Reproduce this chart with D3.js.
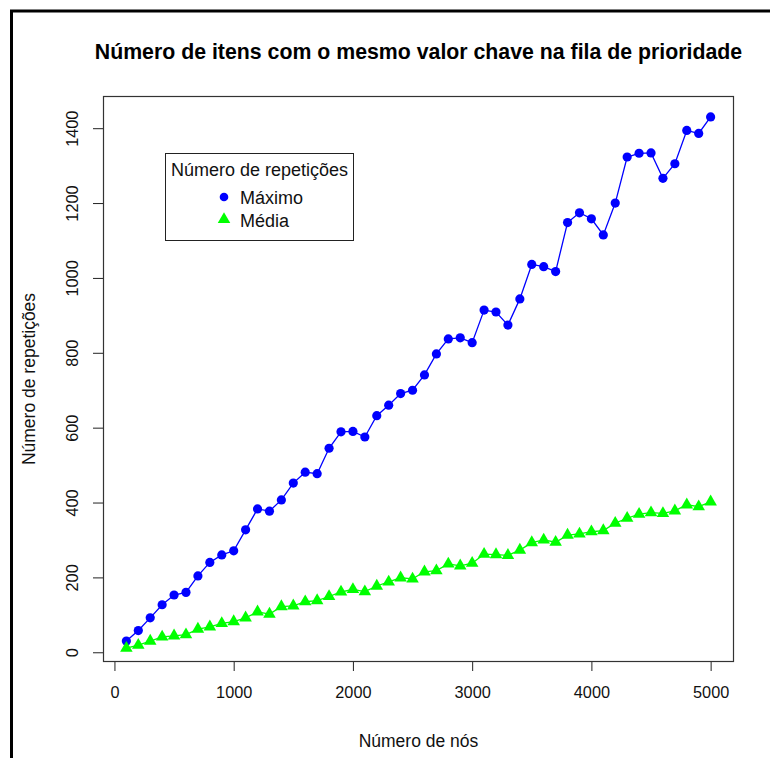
<!DOCTYPE html>
<html>
<head>
<meta charset="utf-8">
<script src="https://cdn.jsdelivr.net/npm/d3@7"></script>
<style>
  html, body { margin: 0; padding: 0; background: #fff; }
  svg { display: block; font-family: "Liberation Sans", Arial, Helvetica, sans-serif; }
</style>
</head>
<body>
<svg id="chart" width="770" height="758"></svg>
<script>
// Number of nodes in the priority queue
const nodes = [100, 200, 300, 400, 500, 600, 700, 800, 900, 1000,
  1100, 1200, 1300, 1400, 1500, 1600, 1700, 1800, 1900, 2000,
  2100, 2200, 2300, 2400, 2500, 2600, 2700, 2800, 2900, 3000,
  3100, 3200, 3300, 3400, 3500, 3600, 3700, 3800, 3900, 4000,
  4100, 4200, 4300, 4400, 4500, 4600, 4700, 4800, 4900, 5000];

// Maximum repetitions of a key value
const maximo = [30, 58, 92, 127, 153, 160, 204, 240, 260, 271,
  327, 383, 377, 407, 452, 481, 477, 545, 589, 590,
  575, 632, 660, 691, 700, 741, 797, 837, 840, 827,
  914, 909, 874, 944, 1036, 1030, 1017, 1148, 1174, 1158,
  1115, 1200, 1323, 1333, 1334, 1266, 1305, 1394, 1386, 1430];

// Mean repetitions of a key value
const media = [11, 19, 30, 41, 44, 47, 62, 68, 77, 82,
  92, 108, 102, 122, 124, 135, 138, 149, 161, 168,
  162, 177, 188, 199, 196, 215, 218, 236, 231, 238,
  262, 261, 259, 273, 293, 300, 294, 313, 316, 322,
  325, 345, 358, 369, 373, 371, 378, 394, 389, 402];

const xTicks = [0, 1000, 2000, 3000, 4000, 5000];
const yTicks = [0, 200, 400, 600, 800, 1000, 1200, 1400];

const titleText = "Número de itens com o mesmo valor chave na fila de prioridade";
const xLabel = "Número de nós";
const yLabel = "Número de repetições";
const legendTitle = "Número de repetições";
const seriesNames = ["Máximo", "Média"];
const seriesColors = ["#0000ff", "#00ff00"];

const svg = d3.select("#chart");
const W = 770, H = 758;
const plot = { left: 103, right: 734, top: 96, bottom: 662 };

svg.append("rect").attr("width", W).attr("height", H).attr("fill", "#fff");

// frame around the figure
svg.append("path")
  .attr("d", `M11.5,${H + 5} V11 H${W + 5}`)
  .attr("fill", "none").attr("stroke", "#000").attr("stroke-width", 3);

// ranges padded by 4% on each side
const xMin = d3.min(nodes), xMax = d3.max(nodes);
const xPad = (xMax - xMin) * 0.04;
const yMin = d3.min(maximo), yMax = d3.max(maximo);
const yPad = (yMax - yMin) * 0.04;

const x = d3.scaleLinear().domain([xMin - xPad, xMax + xPad]).range([plot.left, plot.right]);
const y = d3.scaleLinear().domain([yMin - yPad, yMax + yPad]).range([plot.bottom, plot.top]);

// title
svg.append("text")
  .attr("x", (plot.left + plot.right) / 2).attr("y", 59)
  .attr("text-anchor", "middle")
  .attr("font-size", 21.3).attr("font-weight", "bold")
  .text(titleText);

// x axis
const gx = svg.append("g")
  .attr("transform", `translate(0,${plot.bottom})`)
  .call(d3.axisBottom(x).tickValues(xTicks).tickFormat(d3.format("d")).tickSize(9).tickPadding(8));
gx.select(".domain").remove();
gx.selectAll(".tick line").attr("stroke", "#222");
gx.selectAll(".tick text").attr("font-size", 16.3).attr("fill", "#111")
  .attr("dy", 0).attr("y", 36).attr("font-family", null);

// y axis with labels rotated parallel to the axis
const gy = svg.append("g")
  .attr("transform", `translate(${plot.left},0)`)
  .call(d3.axisLeft(y).tickValues(yTicks).tickFormat(d3.format("d")).tickSize(10));
gy.select(".domain").remove();
gy.selectAll(".tick line").attr("stroke", "#222");
gy.selectAll(".tick text")
  .attr("font-size", 16.3).attr("fill", "#111").attr("font-family", null)
  .attr("x", 0).attr("dy", 0)
  .attr("text-anchor", "middle")
  .attr("transform", "translate(-25,0) rotate(-90)");

// plot box
svg.append("rect")
  .attr("x", plot.left + 0.5).attr("y", plot.top + 0.5)
  .attr("width", plot.right - plot.left - 1).attr("height", plot.bottom - plot.top - 1)
  .attr("fill", "none").attr("stroke", "#333").attr("stroke-width", 1.2);

// axis titles
svg.append("text")
  .attr("x", (plot.left + plot.right) / 2).attr("y", 747)
  .attr("text-anchor", "middle").attr("font-size", 17.5).attr("fill", "#111")
  .text(xLabel);
svg.append("text")
  .attr("transform", `translate(35,${(plot.top + plot.bottom) / 2}) rotate(-90)`)
  .attr("text-anchor", "middle").attr("font-size", 17.5).attr("fill", "#111")
  .text(yLabel);

// series
const series = [maximo, media];
const line = d3.line().x((d, i) => x(nodes[i])).y(d => y(d));
const tri = d3.symbol().type(d3.symbolTriangle).size(68);

series.forEach((vals, s) => {
  const g = svg.append("g");
  g.append("path").datum(vals)
    .attr("d", line)
    .attr("fill", "none").attr("stroke", seriesColors[s]).attr("stroke-width", 1.3);
  if (s === 0) {
    g.selectAll("circle").data(vals).join("circle")
      .attr("cx", (d, i) => x(nodes[i])).attr("cy", d => y(d))
      .attr("r", 4.6).attr("fill", seriesColors[s]);
  } else {
    g.selectAll("path.pt").data(vals).join("path").attr("class", "pt")
      .attr("d", tri)
      .attr("transform", (d, i) => `translate(${x(nodes[i])},${y(d)})`)
      .attr("fill", seriesColors[s]);
  }
});

// legend
const lg = svg.append("g");
lg.append("rect")
  .attr("x", 165.5).attr("y", 153.5).attr("width", 188).attr("height", 87)
  .attr("fill", "#fff").attr("stroke", "#222").attr("stroke-width", 1);
lg.append("text")
  .attr("x", 259.5).attr("y", 176)
  .attr("text-anchor", "middle").attr("font-size", 18).attr("fill", "#111")
  .text(legendTitle);
seriesNames.forEach((name, s) => {
  const cy = 197 + s * 22.5;
  if (s === 0) {
    lg.append("circle").attr("cx", 224).attr("cy", cy).attr("r", 4.3).attr("fill", seriesColors[s]);
  } else {
    lg.append("path").attr("d", tri).attr("transform", `translate(224,${cy})`).attr("fill", seriesColors[s]);
  }
  lg.append("text")
    .attr("x", 240).attr("y", cy + 7)
    .attr("font-size", 18).attr("fill", "#111")
    .text(name);
});
</script>
</body>
</html>
